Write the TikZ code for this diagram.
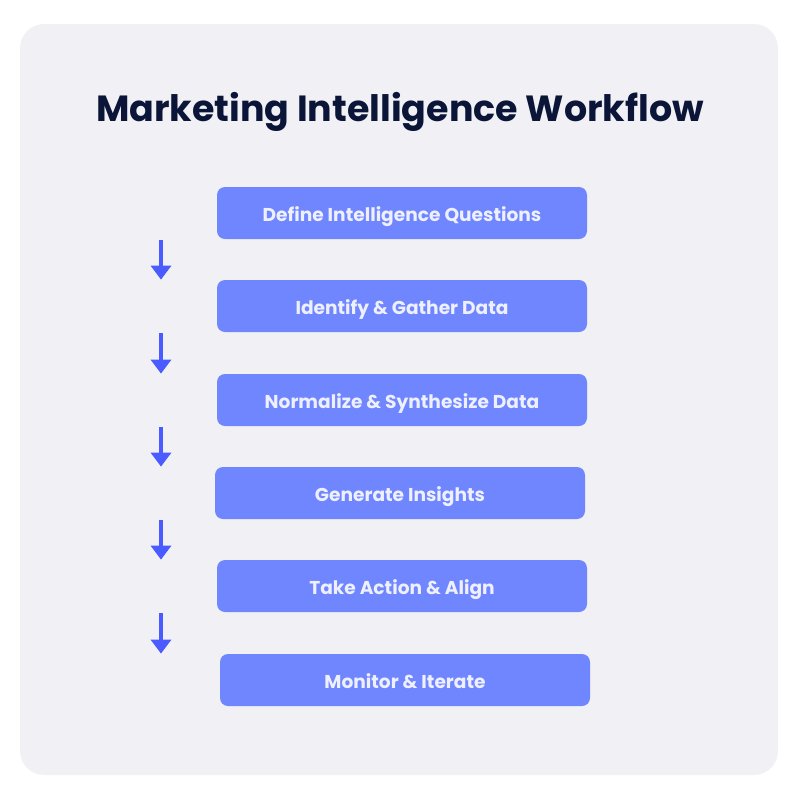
\documentclass[tikz,border=0pt]{standalone}
\usepackage{fontspec}
\setmainfont{Poppins}
\usepackage{tikz}

\definecolor{panelgray}{HTML}{F1F1F5}
\definecolor{stepblue}{HTML}{6F86FF}
\definecolor{arrowblue}{HTML}{4A5CFF}
\definecolor{titlenavy}{HTML}{0B1538}
\definecolor{steptext}{HTML}{EEF0FF}

\tikzset{
  stepbox/.style={fill=stepblue, rounded corners=4pt, minimum width=185pt, minimum height=26pt,
    text height=9.5pt, text depth=1pt,
    text=steptext, font=\bfseries\fontsize{9.3}{11}\selectfont},
  flow/.style={draw=arrowblue, line width=2pt, -{Triangle[width=10pt,length=7pt]}}
}
\usetikzlibrary{arrows.meta}

\begin{document}
\begin{tikzpicture}[x=0.5pt,y=-0.5pt]
        \useasboundingbox (0,0) rectangle (800,800);
        \fill[panelgray, rounded corners=12pt] (20,24) rectangle (778,775);
        \node[text=titlenavy, font=\bfseries\fontsize{18.2}{22}\selectfont] (title) at (400,112) {Marketing Intelligence Workflow};
        % the six steps
        \node[stepbox] (b1) at (402,213) {Define Intelligence Questions};
        \node[stepbox] (b2) at (402,306) {Identify \& Gather Data};
        \node[stepbox] (b3) at (402,400) {Normalize \& Synthesize Data};
        \node[stepbox] (b4) at (400,493) {Generate Insights};
        \node[stepbox] (b5) at (402,586) {Take Action \& Align};
        \node[stepbox] (b6) at (405,680) {Monitor \& Iterate};
        \coordinate (ax) at (161,0);
        \foreach \i/\j in {1/2,2/3,3/4,4/5,5/6}
        \draw[flow] ([yshift=-0.5pt]b\i.south -| ax) -- (b\j.north -| ax);
\end{tikzpicture}
\end{document}
